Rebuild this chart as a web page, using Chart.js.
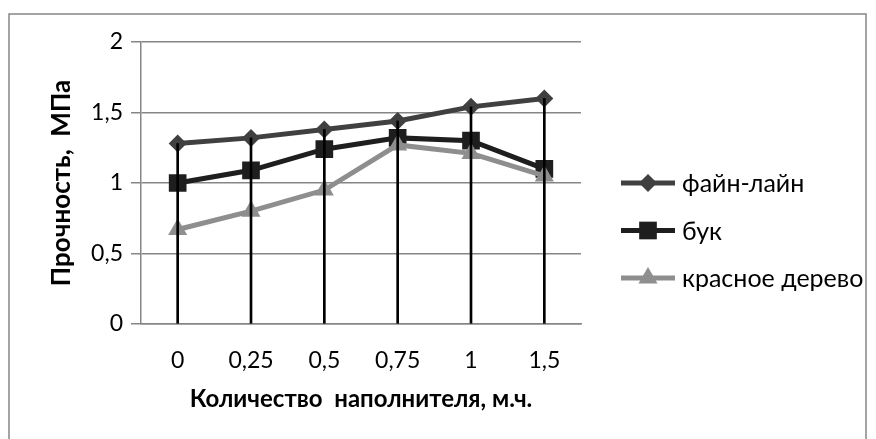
<!DOCTYPE html>
<html lang="ru">
<head>
  <meta charset="UTF-8">
  <title>Прочность</title>
  <script src="https://cdn.jsdelivr.net/npm/chart.js"></script>
  <style>
    body { margin: 0; background: #fff; }
  </style>
</head>
<body>
  <canvas id="strengthChart" width="876" height="439"></canvas>

  <script>
    // значения
    const categories = ['0', '0,25', '0,5', '0,75', '1', '1,5'];
    const fineLine = [1.28, 1.32, 1.38, 1.44, 1.54, 1.60];
    const beech = [1.00, 1.09, 1.24, 1.32, 1.30, 1.10];
    const mahogany = [0.67, 0.80, 0.95, 1.27, 1.21, 1.05];
    const yTicks = [0, 0.5, 1, 1.5, 2];
    const seriesNames = ['файн-лайн', 'бук', 'красное дерево'];

    // вертикальные линии от оси до верхней точки
    const dropTops = categories.map((_, i) => Math.max(fineLine[i], beech[i], mahogany[i]));

    const colors = ['#404040', '#1e1e1e', '#8e8e8e'];
    const markers = ['rectRot', 'rect', 'triangle'];
    const radii = [9, 12.5, 11];
    const font = 'Lato';

    function drawMarker(ctx, style, x, y, r) {
      ctx.beginPath();
      if (style === 'rectRot') {
        ctx.moveTo(x, y - r); ctx.lineTo(x + r, y); ctx.lineTo(x, y + r); ctx.lineTo(x - r, y);
      } else if (style === 'rect') {
        const s = r * Math.SQRT1_2;
        ctx.rect(x - s, y - s, 2 * s, 2 * s);
      } else {
        ctx.moveTo(x, y - r);
        ctx.lineTo(x + r * Math.cos(Math.PI / 6), y + r / 2);
        ctx.lineTo(x - r * Math.cos(Math.PI / 6), y + r / 2);
      }
      ctx.closePath();
      ctx.fill();
    }

    const framePlugin = {
      id: 'frame',
      beforeDraw(chart) {
        const ctx = chart.ctx;
        ctx.save();
        ctx.strokeStyle = '#868686';
        ctx.lineWidth = 1.5;
        ctx.strokeRect(9, 14, 857, 440);
        ctx.restore();
      }
    };

    const legendPlugin = {
      id: 'sideLegend',
      afterDraw(chart) {
        const ctx = chart.ctx;
        const x0 = chart.chartArea.right + 40;
        ctx.save();
        ctx.font = '25px ' + font;
        ctx.textBaseline = 'middle';
        seriesNames.forEach((name, i) => {
          const y = 183 + i * 47.5;
          ctx.strokeStyle = colors[i];
          ctx.fillStyle = colors[i];
          ctx.lineWidth = 5;
          ctx.beginPath();
          ctx.moveTo(x0, y); ctx.lineTo(x0 + 54, y);
          ctx.stroke();
          drawMarker(ctx, markers[i], x0 + 27, y, radii[i]);
          ctx.fillStyle = '#000';
          ctx.fillText(name, x0 + 61, y + 1);
        });
        ctx.restore();
      }
    };

    function lineSet(i, data) {
      return {
        type: 'line',
        label: seriesNames[i],
        data: data,
        borderColor: colors[i],
        backgroundColor: colors[i],
        borderWidth: 5,
        pointStyle: markers[i],
        pointRadius: radii[i],
        pointBorderWidth: 0,
        order: 4 - i
      };
    }

    new Chart(document.getElementById('strengthChart'), {
      data: {
        labels: categories,
        datasets: [
          {
            type: 'bar',
            label: 'drop',
            data: dropTops,
            backgroundColor: '#000',
            barThickness: 2,
            order: 0
          },
          lineSet(0, fineLine),
          lineSet(1, beech),
          lineSet(2, mahogany)
        ]
      },
      options: {
        responsive: false,
        animation: false,
        layout: { padding: { left: 10, right: 295, top: 42, bottom: 0 } },
        plugins: {
          legend: { display: false },
          tooltip: { enabled: false }
        },
        scales: {
          x: {
            offset: true,
            afterFit(scale) { scale.height = 115; },
            grid: { display: false, drawTicks: false },
            border: { display: true, color: '#868686', width: 1.5 },
            ticks: { color: '#000', font: { family: font, size: 23 }, padding: 23 },
            title: {
              display: true,
              text: 'Количество  наполнителя, м.ч.',
              color: '#000',
              font: { family: font, size: 24, weight: 'bold' },
              padding: { top: 0, bottom: 25 }
            }
          },
          y: {
            min: 0,
            max: 2,
            afterBuildTicks(scale) {
              scale.ticks = yTicks.map(v => ({ value: v }));
            },
            afterFit(scale) { scale.width = 131; },
            grid: { color: '#868686', lineWidth: 1.5, tickLength: 10 },
            border: { display: true, color: '#868686', width: 1.5 },
            ticks: {
              color: '#000',
              font: { family: font, size: 23 },
              padding: 8,
              callback: v => String(v).replace('.', ',')
            },
            title: {
              display: true,
              text: 'Прочность,  МПа',
              color: '#000',
              font: { family: font, size: 26, weight: 'bold' },
              padding: { top: 36, bottom: 0 }
            }
          }
        }
      },
      plugins: [framePlugin, legendPlugin]
    });
  </script>
</body>
</html>
